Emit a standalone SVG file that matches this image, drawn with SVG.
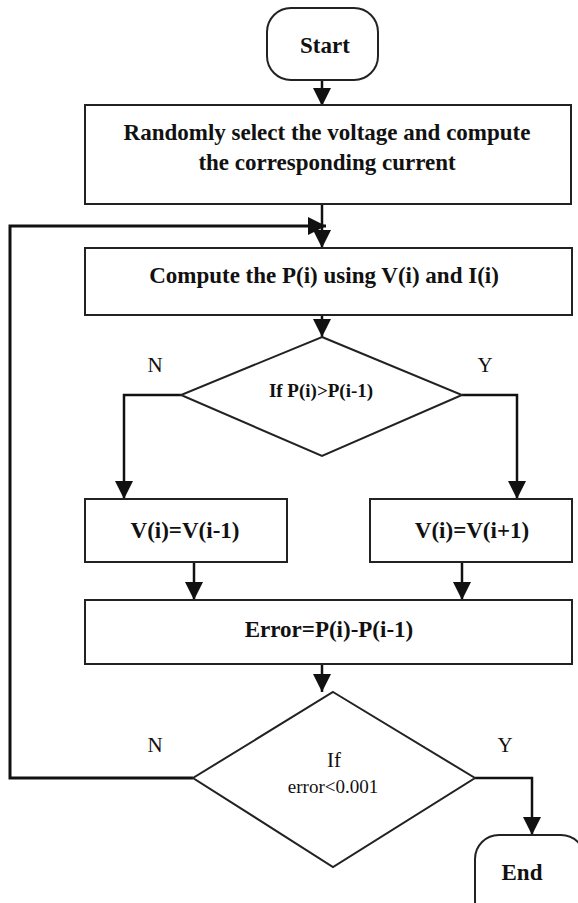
<svg xmlns="http://www.w3.org/2000/svg" width="578" height="903" viewBox="0 0 578 903">
<style>
.box{fill:#fff;stroke:#222;stroke-width:2}
.ln{fill:none;stroke:#111;stroke-width:2.5}
.t{font-family:"Liberation Serif","Times New Roman",serif;fill:#111;text-anchor:middle}
.b{font-weight:bold;font-size:23px}
.lab{font-size:21px}
</style>
<defs>
<marker id="ah" markerUnits="userSpaceOnUse" markerWidth="18" markerHeight="18" viewBox="0 0 18 18" refX="18" refY="9" orient="auto">
<path d="M0,0 L18,9 L0,18 Z" fill="#111"/>
</marker>
</defs>
<rect width="578" height="903" fill="#fff"/>
<g id="connectors">
<line class="ln" x1="322" y1="80" x2="322" y2="106" marker-end="url(#ah)"/>
<line class="ln" x1="322" y1="204" x2="322" y2="248" marker-end="url(#ah)"/>
<polyline class="ln" style="stroke-width:3" points="193,778 10,778 10,226 326,226" marker-end="url(#ah)"/>
<line class="ln" x1="322" y1="315" x2="322" y2="337" marker-end="url(#ah)"/>
<polyline class="ln" points="181,395 124,395 124,499" marker-end="url(#ah)"/>
<polyline class="ln" points="462,395 517,395 517,499" marker-end="url(#ah)"/>
<line class="ln" x1="194" y1="562" x2="194" y2="600" marker-end="url(#ah)"/>
<line class="ln" x1="462" y1="562" x2="462" y2="600" marker-end="url(#ah)"/>
<line class="ln" x1="322" y1="664" x2="322" y2="692" marker-end="url(#ah)"/>
<polyline class="ln" points="475,778 532,778 532,835" marker-end="url(#ah)"/>
<text class="t lab" x="155" y="372">N</text>
<text class="t lab" x="485" y="372">Y</text>
<text class="t lab" x="155" y="752">N</text>
<text class="t lab" x="505" y="752">Y</text>
</g>
<g id="start">
<rect class="box" x="267" y="8" width="111" height="72" rx="24" ry="24"/>
<text class="t b" x="325" y="53">Start</text>
</g>
<g id="init">
<rect class="box" x="85" y="105" width="486" height="99"/>
<text class="t b" x="327" y="140">Randomly select the voltage and compute</text>
<text class="t b" x="327" y="170">the corresponding current</text>
</g>
<g id="compute">
<rect class="box" x="85" y="248" width="487" height="67"/>
<text class="t b" x="324" y="283">Compute the P(i) using V(i) and I(i)</text>
</g>
<g id="cond1">
<polygon class="box" points="322,337 462,395 322,456 181,395"/>
<text class="t" style="font-size:19px;font-weight:600" x="321" y="397">If P(i)&gt;P(i-1)</text>
</g>
<g id="dec">
<rect class="box" x="85" y="499" width="202" height="63"/>
<text class="t b" x="185" y="538">V(i)=V(i-1)</text>
</g>
<g id="inc">
<rect class="box" x="370" y="499" width="202" height="63"/>
<text class="t b" x="472" y="538">V(i)=V(i+1)</text>
</g>
<g id="error">
<rect class="box" x="85" y="600" width="487" height="64"/>
<text class="t b" x="329" y="637">Error=P(i)-P(i-1)</text>
</g>
<g id="cond2">
<polygon class="box" points="333,692 475,778 333,867 193,778"/>
<text class="t" style="font-size:21px" x="334" y="767">If</text>
<text class="t" style="font-size:19px" x="333" y="793">error&lt;0.001</text>
</g>
<g id="end">
<rect class="box" x="475" y="835" width="110" height="90" rx="24" ry="24"/>
<text class="t b" x="522" y="880">End</text>
</g>
</svg>
